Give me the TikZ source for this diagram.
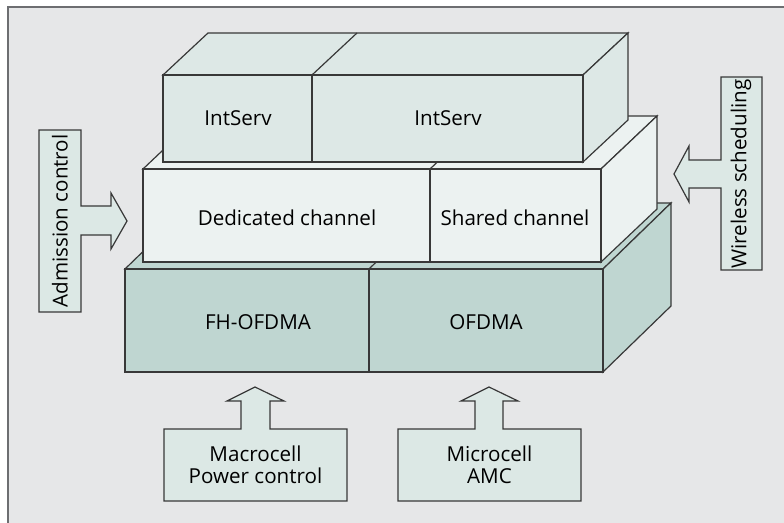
\documentclass[tikz,border=0pt]{standalone}
\usepackage{fontspec}
\setmainfont{Open Sans}
\definecolor{paper}{HTML}{E6E7E8}
\definecolor{frameline}{HTML}{6D6E71}
\definecolor{edge}{HTML}{383838}
\definecolor{servfill}{HTML}{DDE8E6}
\definecolor{chanfill}{HTML}{ECF2F1}
\definecolor{phyfill}{HTML}{BFD6D1}
\definecolor{ctrlfill}{HTML}{DCE8E5}
\begin{document}
\begin{tikzpicture}[x=0.5pt,y=-0.5pt,line width=0.6pt,line join=miter,
    serv/.style={draw=edge,fill=servfill},
    chan/.style={draw=edge,fill=chanfill},
    phy/.style={draw=edge,fill=phyfill},
    ctrl/.style={draw=edge,fill=ctrlfill},
    lbl/.style={font=\fontsize{10.3}{11}\selectfont,inner sep=0pt,align=center}]
                \useasboundingbox (0,0) rectangle (784,523);
                \fill[white] (0,0) rectangle (784,523);
                \fill[paper] (8,7) rectangle (784,523);
                \draw[frameline,line width=1pt] (8,523)--(8,7)--(784,7);

                % bottom layer
                \draw[phy] (125,269)--++(68,-66)--++(478,0)--++(-68,66)--cycle;
                \draw[phy] (603,269)--++(68,-66)--++(0,103)--++(-68,66)--cycle;
                \draw[phy] (125,269) rectangle (603,372);
                \draw[edge] (369,269)--(369,372);
                \draw[edge] (369,269)--++(68,-66);

                % middle layer
                \draw[chan] (143,169)--++(56,-53)--++(458,0)--++(-56,53)--cycle;
                \draw[chan] (601,169)--++(56,-53)--++(0,93)--++(-56,53)--cycle;
                \draw[chan] (143,169) rectangle (601,262);
                \draw[edge] (430,169)--(430,262);
                \draw[edge] (430,169)--++(56,-53);

                % top layer
                \draw[serv] (163,75)--++(45,-42)--++(420,0)--++(-45,42)--cycle;
                \draw[serv] (583,75)--++(45,-42)--++(0,87)--++(-45,42)--cycle;
                \draw[serv] (163,75) rectangle (583,162);
                \draw[edge] (312,75)--(312,162);
                \draw[edge] (312,75)--++(45,-42);

                \node[lbl] (intservl) at (238,118) {IntServ};
                \node[lbl] (intservr) at (448,118) {IntServ};
                \node[lbl] (dedicated) at (287,218) {Dedicated channel};
                \node[lbl] (shared) at (515,218) {Shared channel};
                \node[lbl] (fhofdma) at (258,322) {FH-OFDMA};
                \node[lbl] (ofdma) at (486,322) {OFDMA};

                % control boxes with block arrows
                \draw[ctrl] (39,130)--(81,130)--(81,206)--(111,206)--(111,193)
                    --(127,221)--(111,249)--(111,235)--(81,235)--(81,312)--(39,312)--cycle;
                \draw[ctrl] (762,77)--(721,77)--(721,160)--(689,160)--(689,146)
                    --(674,174)--(689,202)--(689,188)--(721,188)--(721,270)--(762,270)--cycle;
                \draw[ctrl] (164,429)--(241,429)--(241,401)--(227,401)--(255,387)
                    --(284,401)--(270,401)--(270,429)--(347,429)--(347,501)--(164,501)--cycle;
                \draw[ctrl] (398,429)--(475,429)--(475,401)--(461,401)--(489,387)
                    --(518,401)--(503,401)--(503,429)--(581,429)--(581,501)--(398,501)--cycle;

                \node[lbl,rotate=90] (admission) at (60,221) {Admission control};
                \node[lbl,rotate=90] (wireless) at (741,174) {Wireless scheduling};
                \node[lbl] (macro) at (255.5,465) {Macrocell\\Power control};
                \node[lbl] (micro) at (489.5,465) {Microcell\\AMC};

            \end{tikzpicture}
\end{document}
